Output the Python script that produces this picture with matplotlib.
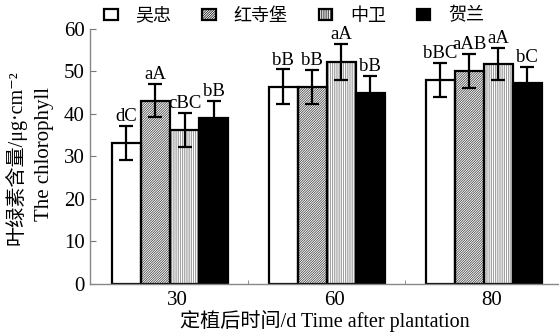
import matplotlib

matplotlib.use("Agg")
import matplotlib.pyplot as plt
import numpy as np
from matplotlib.patches import Patch

plt.rcParams["font.family"] = ["Liberation Serif", "Noto Sans CJK SC", "DejaVu Serif"]
plt.rcParams["hatch.linewidth"] = 0.5

# data
days = ["30", "60", "80"]
sites = ["吴忠", "红寺堡", "中卫", "贺兰"]
means = [
    [33.2, 46.4, 48.0],   # 吴忠
    [43.1, 46.4, 50.1],   # 红寺堡
    [36.2, 52.2, 51.8],   # 中卫
    [39.1, 45.0, 47.3],   # 贺兰
]
errs = [
    [4.0, 4.1, 4.0],
    [3.9, 4.0, 4.1],
    [4.0, 4.2, 3.8],
    [4.0, 4.0, 3.8],
]
letters = [
    ["dC", "bB", "bBC"],
    ["aA", "bB", "aAB"],
    ["cBC", "aA", "aA"],
    ["bB", "bB", "bC"],
]

faces = ["white", "white", "white", "black"]
hatches = [None, "/" * 14, "|" * 9, None]
hatch_colors = ["black", "#333333", "#777777", "black"]

fig = plt.figure(figsize=(5.59, 3.32), dpi=100)
ax = fig.add_axes([0.161, 0.1446, 0.839, 0.7681])

x = np.arange(len(days))
w = 0.185
handles = []
for i, site in enumerate(sites):
    pos = x + (i - 1.5) * w
    # fill + hatch (hatch takes the edge colour), then the black outline on top
    ax.bar(pos, means[i], width=w, color=faces[i], edgecolor=hatch_colors[i],
           linewidth=0, hatch=hatches[i], zorder=2)
    ax.bar(pos, means[i], width=w, fill=False, edgecolor="black",
           linewidth=1.6, zorder=2.5)
    ax.errorbar(pos, means[i], yerr=errs[i], fmt="none", ecolor="black",
                elinewidth=1.6, capsize=5, capthick=1.6, zorder=3)
    for px, m, e, lab in zip(pos, means[i], errs[i], letters[i]):
        ax.text(px, m + e + 0.2, lab, ha="center", va="bottom", fontsize=13.5)
    handles.append(Patch(facecolor=faces[i], edgecolor="black", linewidth=1.6,
                         hatch=hatches[i], label=site))

ax.set_xlim(-0.51, 2.48)
ax.set_ylim(0, 60)
ax.set_yticks(range(0, 61, 10))
ax.set_xticks(x + 0.05)
ax.set_xticklabels(days, fontsize=15)
ax.set_xticks(x[:-1] + 0.5, minor=True)
ax.tick_params(axis="y", direction="in", length=4, color="#777777", labelsize=15, pad=4)
ax.tick_params(axis="x", which="major", length=0, pad=5)
ax.tick_params(axis="x", which="minor", direction="in", length=3, color="#777777")
for s in ["top", "right"]:
    ax.spines[s].set_visible(False)
for s in ["left", "bottom"]:
    ax.spines[s].set_color("#888888")
    ax.spines[s].set_linewidth(1.0)

ax.set_xlabel("定植后时间/d Time after plantation", fontsize=14.5, labelpad=0)

fig.text(0.028, 0.525, "叶绿素含量/μg·cm⁻²", rotation=90, ha="center", va="center",
         fontsize=14.5)
fig.text(0.079, 0.535, "The chlorophyll", rotation=90, ha="center", va="center",
         fontsize=15)

leg = fig.legend(handles=handles, loc="center left", bbox_to_anchor=(0.186, 0.953),
                 ncol=4, frameon=False, fontsize=13, handlelength=0.75,
                 handleheight=0.55, handletextpad=1.0, columnspacing=1.7,
                 borderaxespad=0, borderpad=0)
for t in leg.get_texts():
    t.set_family(["Noto Sans CJK SC"])

fig.savefig("out.png", dpi=100)
